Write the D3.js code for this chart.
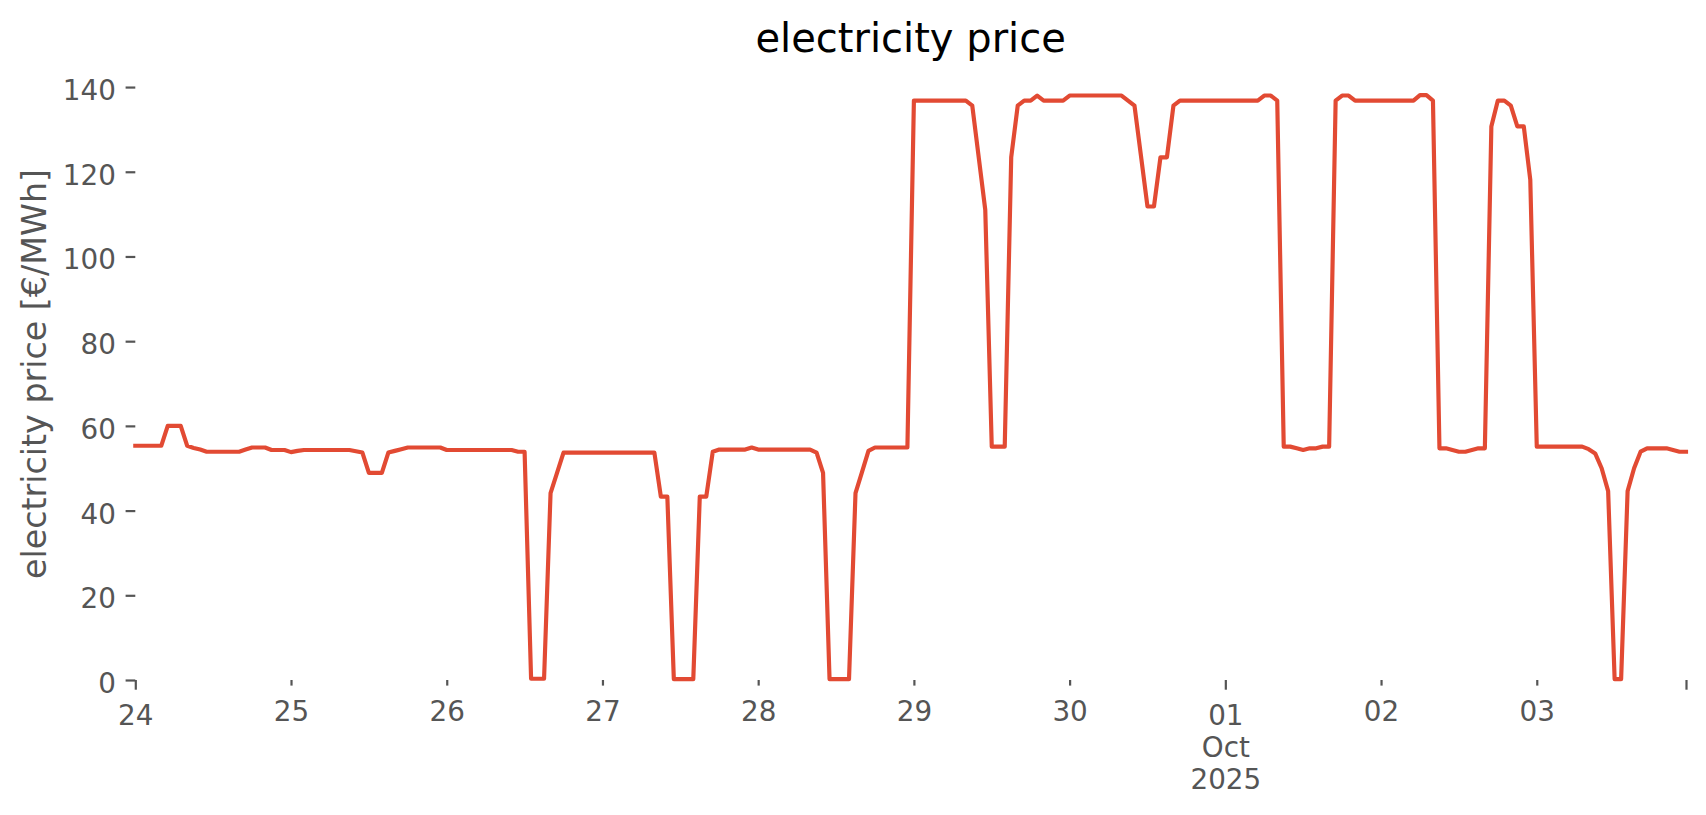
<!DOCTYPE html>
<html><head><meta charset="utf-8">
<script src="https://cdn.jsdelivr.net/npm/d3@7"></script>
<style>
body{margin:0;background:#fff}
svg{display:block}
text{font-family:"DejaVu Sans",sans-serif}
</style>
</head><body>
<script>
// ---- data (hourly prices, €/MWh) ----
const chartTitle = "electricity price";
const yAxisLabel = "electricity price [€/MWh]";
const seriesStart = "2025-09-24T00:00:00Z";

const sep24 = [55.3,55.3,55.3,55.3,55.3,60.0,60.0,60.0,55.3,54.8,54.4,53.9,53.9,53.9,53.9,53.9,53.9,54.4,54.9,54.9,54.9,54.3,54.3,54.3];
const sep25 = [53.8,54.1,54.3,54.3,54.3,54.3,54.3,54.3,54.3,54.3,54.0,53.7,48.9,48.9,48.9,53.7,54.1,54.5,54.9,54.9,54.9,54.9,54.9,54.9];
const sep26 = [54.3,54.3,54.3,54.3,54.3,54.3,54.3,54.3,54.3,54.3,54.3,53.9,53.9,0.3,0.3,0.3,44.1,48.9,53.7,53.7,53.7,53.7,53.7,53.7];
const sep27 = [53.7,53.7,53.7,53.7,53.7,53.7,53.7,53.7,53.7,43.3,43.3,0.2,0.2,0.2,0.2,43.3,43.3,53.9,54.4,54.4,54.4,54.4,54.4,54.9];
const sep28 = [54.4,54.4,54.4,54.4,54.4,54.4,54.4,54.4,54.4,53.7,48.9,0.2,0.2,0.2,0.2,44.1,49.1,54.1,54.9,54.9,54.9,54.9,54.9,54.9];
const sep29 = [136.8,136.8,136.8,136.8,136.8,136.8,136.8,136.8,136.8,135.6,123.3,111.0,55.1,55.1,55.1,123.4,135.6,136.8,136.8,138.0,136.8,136.8,136.8,136.8];
const sep30 = [138.0,138.0,138.0,138.0,138.0,138.0,138.0,138.0,138.0,136.8,135.6,123.7,111.8,111.8,123.4,123.4,135.6,136.8,136.8,136.8,136.8,136.8,136.8,136.8];
const oct01 = [136.8,136.8,136.8,136.8,136.8,136.8,138.0,138.0,136.8,55.1,55.1,54.7,54.3,54.7,54.7,55.1,55.1,136.8,138.0,138.0,136.8,136.8,136.8,136.8];
const oct02 = [136.8,136.8,136.8,136.8,136.8,136.8,138.1,138.1,136.8,54.7,54.7,54.3,53.9,53.9,54.3,54.7,54.7,130.7,136.8,136.8,135.6,130.7,130.7,118.1];
const oct03 = [55.1,55.1,55.1,55.1,55.1,55.1,55.1,55.1,54.5,53.5,50.0,44.6,0.2,0.2,44.6,50.0,53.9,54.7,54.7,54.7,54.7,54.3,53.9,53.9];

const yTicks = [0,20,40,60,80,100,120,140];
const xTickDates = ["2025-09-24","2025-09-25","2025-09-26","2025-09-27","2025-09-28","2025-09-29","2025-09-30","2025-10-01","2025-10-02","2025-10-03","2025-10-03T23:00:00Z"];
const xTickLabels = ["24","25","26","27","28","29","30","01\nOct\n2025","02","03",""];
const xMajorTicks = [true,false,false,false,false,false,false,true,false,false,true];

// ---- build ----
const prices = [].concat(sep24,sep25,sep26,sep27,sep28,sep29,sep30,oct01,oct02,oct03);
const t0 = new Date(seriesStart);
const data = prices.map((v,i)=>({t: d3.utcHour.offset(t0,i), v}));

const W = 1706, H = 815;
const svg = d3.select("body").append("svg").attr("width",W).attr("height",H);

const x = d3.scaleUtc().domain([data[0].t, data[data.length-1].t]).range([135.3, 1686]);
const y = d3.scaleLinear().domain([0, 144.5]).range([680, 68]);

const tickColor = "#555555";
const tickFont = 27.8;

// y axis
const gy = svg.append("g").attr("transform","translate(135.3,0)")
  .call(d3.axisLeft(y).tickValues(yTicks).tickSize(9.7).tickPadding(9.7).tickSizeOuter(0));
gy.select(".domain").remove();
gy.selectAll(".tick line").attr("stroke",tickColor).attr("stroke-width",2.2);
gy.selectAll(".tick text").attr("fill",tickColor).attr("font-size",tickFont)
  .attr("font-family","DejaVu Sans").attr("dy",null).attr("dominant-baseline","alphabetic")
  .attr("transform","translate(0,12.5)");

// x axis
const tickDates = xTickDates.map(s => new Date(s.length===10 ? s+"T00:00:00Z" : s));
const gx = svg.append("g").attr("transform","translate(0,680)")
  .call(d3.axisBottom(x).tickValues(tickDates).tickFormat(()=>"").tickSizeOuter(0));
gx.select(".domain").remove();
gx.selectAll(".tick line").attr("stroke",tickColor).attr("stroke-width",2.2)
  .attr("y2",(d,i)=> xMajorTicks[i] ? 9.7 : 5.6);
gx.selectAll(".tick text").each(function(d,i){
  const t = d3.select(this);
  t.text(null).attr("y",null).attr("dy",null)
   .attr("fill",tickColor).attr("font-size",tickFont).attr("font-family","DejaVu Sans")
   .attr("text-anchor","middle");
  const base = (xMajorTicks[i] ? 9.7 : 5.6) + 9.7 + 25.3;
  xTickLabels[i].split("\n").forEach((s,k)=>{
    if (s) t.append("tspan").attr("x",0).attr("y",base + k*32).text(s);
  });
});

// line
svg.append("path").datum(data)
  .attr("fill","none").attr("stroke","#E24A33").attr("stroke-width",4.17)
  .attr("stroke-linejoin","round").attr("stroke-linecap","square")
  .attr("d", d3.line().x(d=>x(d.t)).y(d=>y(d.v)));

// title
svg.append("text").attr("x",(135.3+1686)/2).attr("y",51.7)
  .attr("text-anchor","middle").attr("font-size",40).attr("fill","#000")
  .text(chartTitle);

// y label
svg.append("text").attr("transform",`translate(46,${(68+680)/2}) rotate(-90)`)
  .attr("text-anchor","middle").attr("font-size",33.3).attr("fill",tickColor)
  .text(yAxisLabel);
</script>
</body></html>
